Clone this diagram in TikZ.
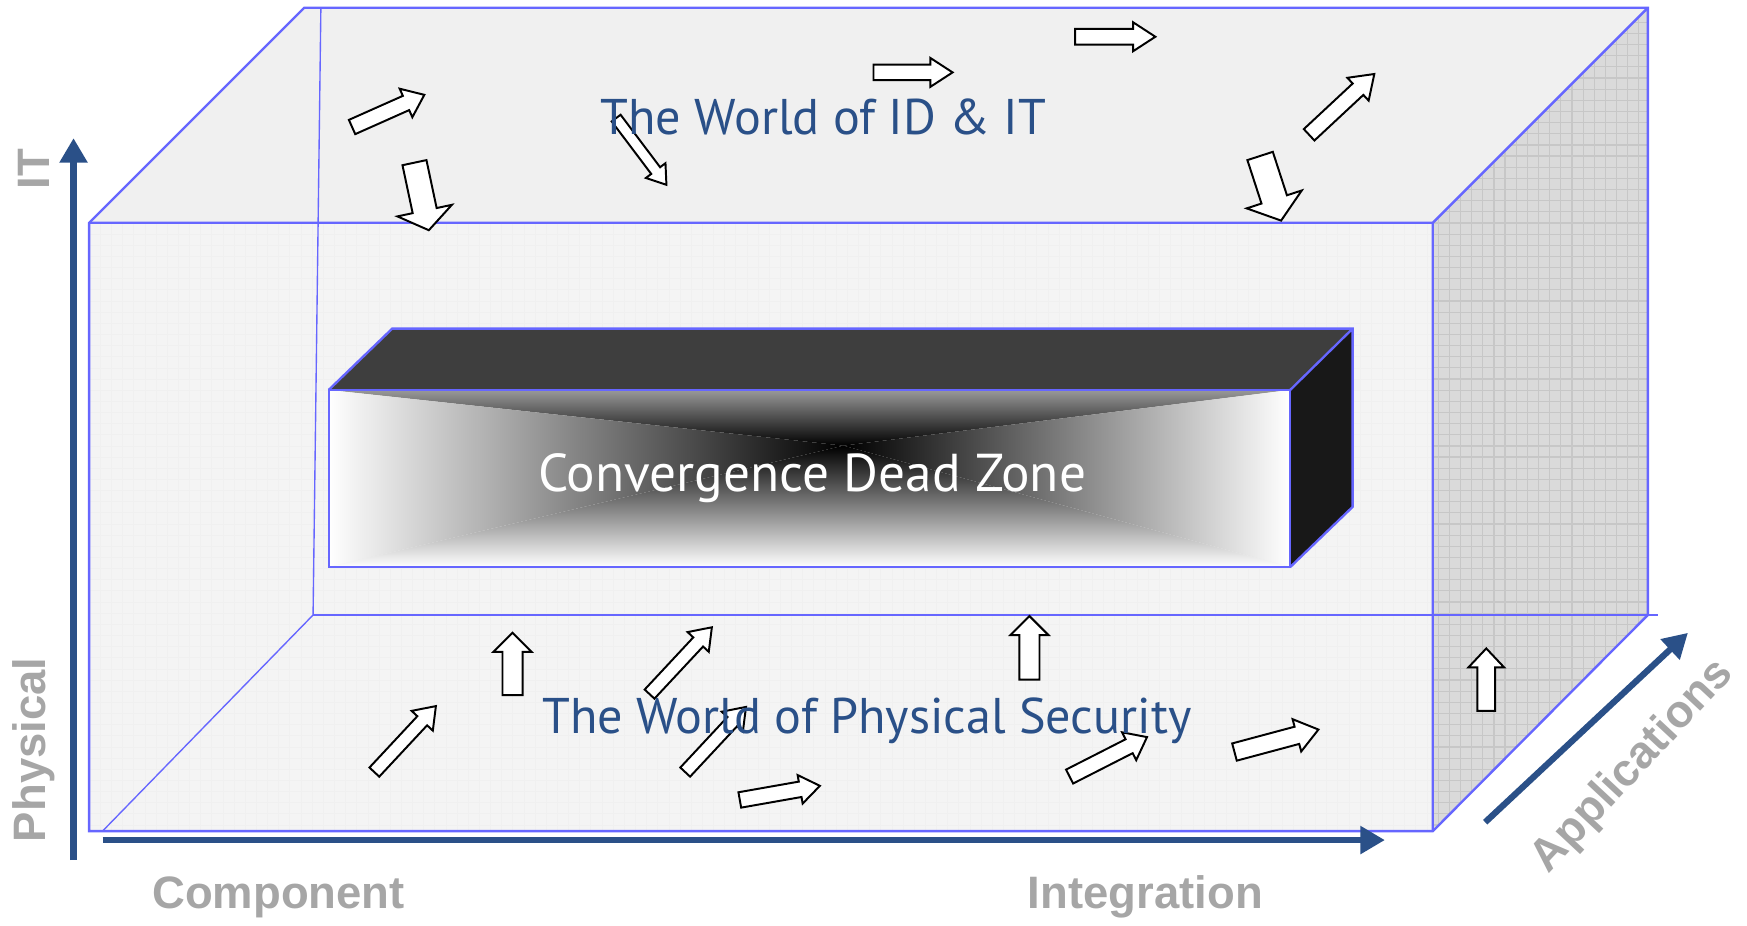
\documentclass[tikz,border=0pt]{standalone}
\usepackage{fontspec}
\setmainfont{PT Sans}
\newfontfamily\lblfont{Liberation Sans}
\usetikzlibrary{arrows.meta}
\definecolor{edgeblue}{RGB}{102,102,255}
\definecolor{navy}{RGB}{42,80,136}
\definecolor{lblgray}{RGB}{166,166,166}
\definecolor{frontgray}{RGB}{244,244,244}
\definecolor{topgray}{RGB}{240,240,240}
\definecolor{sidegray}{RGB}{218,218,218}
\definecolor{darktop}{RGB}{62,62,62}
\definecolor{darkside}{RGB}{24,24,24}
% block arrow: tail x, tail y, angle, length, half shaft, half head, head length
\newcommand{\blockarr}[7]{%
  \begin{scope}[shift={(#1,#2)},rotate=#3]
    \draw[barrow] (0,-#5) -- ({#4-#7},-#5) -- ({#4-#7},-#6) -- (#4,0)
      -- ({#4-#7},#6) -- ({#4-#7},#5) -- (0,#5) -- cycle;
  \end{scope}}
\begin{document}
\begin{tikzpicture}[x=0.01cm,y=-0.01cm,
  edge/.style={draw=edgeblue,line width=0.6pt},
  thinedge/.style={draw=edgeblue,line width=0.35pt},
  barrow/.style={draw=black,fill=white,line width=0.5pt},
  axis/.style={draw=navy,line width=1.6pt,-{Triangle[length=0.22cm,width=0.24cm]}},
  axlabel/.style={font=\lblfont\bfseries\fontsize{11.6}{14}\selectfont,text=lblgray},
  world/.style={font=\fontsize{12.8}{15}\selectfont,text=navy}]
\useasboundingbox (0,0) rectangle (1568,831);
% the big box
\fill[frontgray] (80,200) rectangle (1286,746);
\fill[topgray] (80,200) -- (273,7) -- (1479,7) -- (1286,200) -- cycle;
\fill[sidegray] (1286,200) -- (1479,7) -- (1479,552) -- (1286,746) -- cycle;
\begin{scope}
\clip (80,200) rectangle (1286,746);
\draw[black!6,line width=0.2pt,step=0.1cm] (0,831) grid (1568,0);
\end{scope}
\begin{scope}
\clip (1286,200) -- (1479,7) -- (1479,552) -- (1286,746) -- cycle;
\draw[black!22,line width=0.3pt,step=0.1cm] (0,831) grid (1568,0);
\end{scope}
\draw[thinedge] (288,7) -- (281,552) -- (92,746);
\draw[edge] (281,552) -- (1488,552);
\draw[edge] (80,200) -- (273,7) -- (1479,7) -- (1479,552) -- (1286,746) -- (80,746) -- cycle;
\draw[edge] (80,200) -- (1286,200) -- (1286,746) (1286,200) -- (1479,7);
% the dead zone
\fill[darktop] (295,350) -- (352,295) -- (1214,295) -- (1158,350) -- cycle;
\fill[darkside] (1158,350) -- (1214,295) -- (1214,455) -- (1158,509) -- cycle;
\shade[top color=black!40,bottom color=black] (295,350) -- (1158,350) -- (757,400) -- cycle;
\shade[left color=white,middle color=black!25,right color=black] (295,350) -- (757,400) -- (295,509) -- cycle;
\shade[left color=black,middle color=black!25,right color=white] (1158,350) -- (757,400) -- (1158,509) -- cycle;
\shade[top color=black,middle color=black!25,bottom color=white] (295,509) -- (757,400) -- (1158,509) -- cycle;
\draw[edge] (295,350) rectangle (1158,509);
\draw[edge] (295,350) -- (352,295) -- (1214,295) -- (1214,455) -- (1158,509) (1214,295) -- (1158,350);
% block arrows
\foreach \x/\y/\a/\l/\s/\h/\k in {316/114/24/71/7/14/18, 372/146/-78/62/11/25/18,
  553/106/-53/75/5/11/16, 784/65/0/71/7/13/20, 965/33/0/72/7/13/20,
  1175/121/43/80/7/14/20, 1131/140/-72/61/12/26/20,
  460/624/90/56/9/17/17, 583/623/47/82/6/13/18, 336/693/47/81/6/13/18,
  615/693/47/80/6/13/18, 664/718/10/73/7/13/18, 924/610/90/57/9/17/17,
  960/697/27/78/7/14/18, 1108/675/15/78/8/15/20, 1334/638/90/56/8/16/17}
  \blockarr{\x}{\y}{\a}{\l}{\s}{\h}{\k};
% texts
\node[world] (idit) at (739,105) {The World of ID \& IT};
\node[world,text=white,font=\fontsize{13.6}{16}\selectfont] (dead) at (729,429) {Convergence Dead Zone};
\node[world] (phys) at (778,647) {The World of Physical Security};
% axes
\coordinate (itfoot) at (66,772);
\coordinate (ittop) at (66,124);
\coordinate (intfoot) at (92,754);
\coordinate (intend) at (1243,754);
\coordinate (appfoot) at (1333,738);
\coordinate (append) at (1515,568);
\draw[axis] (itfoot) -- (ittop);
\draw[axis] (intfoot) -- (intend);
\draw[axis] (appfoot) -- (append);
\node[axlabel] (comp) at (250,805) {Component};
\node[axlabel] (integ) at (1028,805) {Integration};
\node[axlabel,rotate=90] (itlbl) at (30,152) {IT};
\node[axlabel,rotate=90] (physlbl) at (30,673) {Physical};
\node[axlabel,rotate=47] (appl) at (1466,688) {Applications};
\end{tikzpicture}
\end{document}
